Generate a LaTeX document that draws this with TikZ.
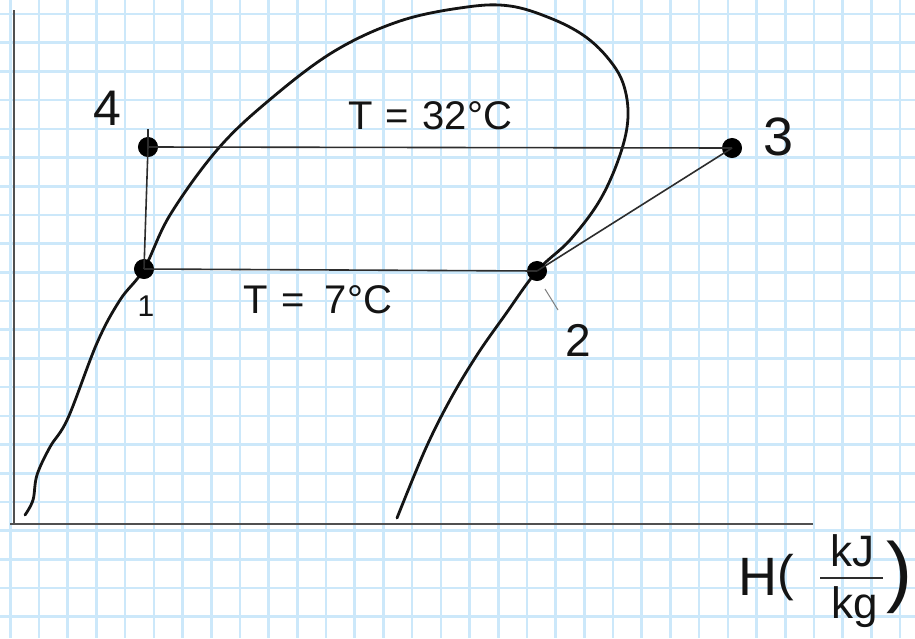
\documentclass[tikz,border=0pt]{standalone}
\usepackage{fontspec}
\setmainfont{Liberation Sans}
\definecolor{gridblue}{RGB}{204,232,250}
\definecolor{axisgray}{RGB}{80,80,80}
\definecolor{ink}{RGB}{20,20,20}
\definecolor{thinink}{RGB}{45,45,45}
\tikzset{
  gridline/.style={gridblue, line width=2.6pt},
  axisline/.style={axisgray, line width=2.4pt},
  dome/.style={ink, line width=2.8pt, line cap=round, line join=round},
  cycleline/.style={thinink, line width=1.6pt},
  dot/.style={circle, fill=black, draw=black, line width=1pt, minimum size=19pt, inner sep=0pt},
  pointer/.style={gray, line width=1pt},
  lbl/.style={inner sep=0pt, text=ink},
}
\begin{document}
\begin{tikzpicture}[x=1pt,y=-1pt]
\useasboundingbox (0,0) rectangle (915,638);
\fill[white] (0,0) rectangle (915,638);
% grid
\foreach \k in {0,...,31} \draw[gridline] ({10.3+28.7*\k},0) -- ({10.3+28.7*\k},638);
\foreach \k in {0,...,21} \draw[gridline] (0,{14+28.7*\k}) -- (915,{14+28.7*\k});
% axes
\draw[axisline] (14,10) -- (14,524);
\draw[axisline] (10,524) -- (813,524);
% saturation dome
\draw[dome] plot[smooth, tension=0.6] coordinates {
 (25,515) (33,500) (37,475) (50,447) (68,418) (97,343)
 (120,300) (144,269) (170,215) (217,150) (267,102) (333,52) (400,21)
 (467,7) (510,6) (550,18) (583,35) (607,57) (623,83) (628,117)
 (620,155) (600,200) (570,240) (537,271) (505,315) (477,355)
 (450,400) (425,450) (397,518)};
% state points
\node[dot] (p4) at (148,147) {};
\node[dot] (p1) at (144,269) {};
\node[dot] (p3) at (732,148) {};
\node[dot] (p2) at (537,271) {};
\coordinate (t4) at (148,129);
% cycle lines
\draw[cycleline] (p4.center) -- (p3.center);
\draw[cycleline] (p1.center) -- (p2.center);
\draw[cycleline] (p1.center) -- (p4.center);
\draw[cycleline] (p2.center) -- (p3.center);
\draw[cycleline] (p4.center) -- (t4);
% pointer to point 2
\coordinate (q1) at (545,289);
\coordinate (q2) at (558,310);
\draw[pointer] (q1) -- (q2);
% labels
\node[lbl, font=\fontsize{50}{56}\selectfont] (l4) at (107,108) {4};
\node[lbl, font=\fontsize{30}{34}\selectfont] (l1) at (146,306) {1};
\node[lbl, font=\fontsize{54}{60}\selectfont] (l3) at (779,137) {3};
\node[lbl, font=\fontsize{46}{52}\selectfont] (l2) at (578,340) {2};
\node[lbl, font=\fontsize{40}{44}\selectfont] (thigh) at (430,116) {T\,\,=\,\,32°C};
\node[lbl, font=\fontsize{40}{44}\selectfont] (tlow) at (318,300) {T\,\,=\,\,\,7°C};
% H(kJ/kg)
\node[lbl, font=\fontsize{54}{60}\selectfont] (hH) at (758,577) {H};
\node[lbl, font=\fontsize{50}{56}\selectfont] (hl) at (786,578) {(};
\node[lbl, font=\fontsize{44}{48}\selectfont] (hnum) at (852,551) {kJ};
\node[lbl, font=\fontsize{44}{48}\selectfont] (hden) at (855,607) {kg};
\node[lbl, font=\fontsize{78}{84}\selectfont] (hr) at (899,577) {)};
\coordinate (b1) at (820,578);
\coordinate (b2) at (883,578);
\draw[cycleline, line width=2pt] (b1) -- (b2);
\end{tikzpicture}
\end{document}
